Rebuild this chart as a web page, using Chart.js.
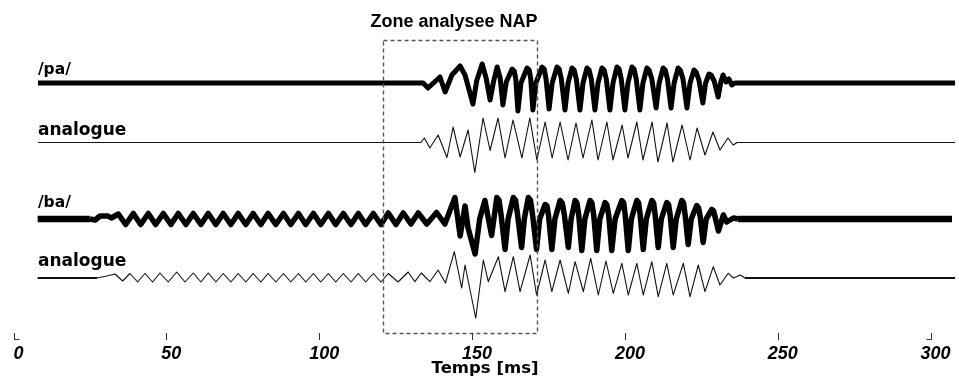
<!DOCTYPE html>
<html>
<head>
<meta charset="utf-8">
<script src="https://cdn.jsdelivr.net/npm/chart.js@4.4.1/dist/chart.umd.min.js"></script>
<style>
  html, body { margin: 0; padding: 0; background: #ffffff; }
  #wrap { width: 959px; height: 391px; position: relative; }
</style>
</head>
<body>
<div id="wrap"><canvas id="c" width="959" height="391"></canvas></div>
<script>
// ---- DATA (time in ms, amplitude in arbitrary units) ----
const tickValues = [0, 50, 100, 150, 200, 250, 300];
const axisTitle = 'Temps [ms]';
const zoneTitle = 'Zone analysee NAP';
const zoneStart = 121;
const zoneEnd = 171.3;
const trackLabels = ['/pa/', 'analogue', '/ba/', 'analogue'];

const paTime = [8, 134, 135.6, 139.5, 141.2, 143.4, 146.1, 147.7, 150.3, 151.5, 153.3, 154.6, 155.9, 157.0, 158.2, 159.2, 160.1, 161.2,
  163.1, 163.8, 164.3, 165.0, 166.0,
  168.0, 168.7, 169.2, 169.9, 170.9,
  172.9, 173.6, 174.2, 175.2, 176.2,
  177.8, 178.5, 179.2, 180.4, 181.4,
  182.7, 183.4, 184.1, 185.3, 186.3,
  187.6, 188.3, 189.0, 190.2, 191.2,
  192.5, 193.2, 193.9, 195.1, 196.1,
  197.4, 198.1, 198.8, 200.0, 201.0,
  202.3, 203.0, 203.7, 204.9, 205.9,
  207.2, 207.9, 208.8, 210.2, 211.2,
  212.5, 213.2, 213.9, 215.1, 216.1,
  217.4, 218.1, 219.0, 220.3, 221.3,
  222.6, 223.3, 224.2, 225.5, 226.4,
  227.5, 228.2, 229.2, 230.5, 231.3,
  232.1, 233.1, 234.0, 235.0, 236.0, 308];
const paAmp = [0, 0, -5, 6, -9, 8, 17, 8, -21, 2, 19, 5, -17, 1, 16, 5, -22, 1,
  14, 12, 4, -28, 0,
  15, 13, 4, -27, 0,
  16, 14, 4, -26, 0,
  16, 14, 4, -27, 0,
  15, 13, 4, -27, 0,
  15, 13, 4, -27, 0,
  15, 13, 4, -27, 0,
  16, 14, 4, -27, 0,
  16, 14, 4, -27, 0,
  15, 13, 4, -25, 0,
  15, 13, 4, -25, 0,
  15, 13, 4, -25, 0,
  13, 11, 3, -20, 0,
  9, 8, 2, -14, 0,
  8, 1, 4, -2, 0, 0];

const an1Time = [8, 133.3, 134.4, 136.2, 138.9, 141.8, 143.8, 146.1, 148.7, 150.9, 153.6, 155.9, 158.5, 160.8, 163.4, 166.3, 168.9, 171.2, 173.9, 176.2, 178.8, 181.4, 184.0, 186.3, 189.2, 191.2, 194.1, 196.1, 199.1, 201.0, 203.9, 205.9, 208.9, 210.8, 213.8, 215.7, 218.7, 221.3, 223.6, 226.2, 228.8, 231.1, 233.7, 235.4, 236.7, 308];
const an1Amp  = [0, 0, 4.5, -5.5, 7.5, -15, 15.5, -14.5, 12.5, -30, 24.5, -8, 24.5, -15.5, 22.5, -15.5, 24.5, -17.5, 20.5, -15.5, 20.5, -17.5, 19.5, -15.5, 22.5, -17.5, 20.5, -17.5, 17.5, -15.5, 20.5, -17.5, 20.5, -19.5, 19.5, -19.5, 17.5, -17.5, 14.5, -12.5, 10.5, -7.5, 4.5, -2.5, 0, 0];

const baTime = [7.9, 25.0, 26.7, 28.3, 30.9, 32.0, 34.3, 36.7, 39.2, 41.6, 44.1, 46.5, 49.0, 51.5, 53.9, 56.4, 58.8, 61.3, 63.7, 66.2, 68.6, 71.1, 73.5, 76.0, 78.4, 80.9, 83.3, 85.8, 88.3, 90.7, 93.2, 95.6, 98.1, 100.5, 103.0, 105.4, 107.9, 110.4, 112.8, 115.2, 117.7, 120.2, 122.6, 125.1, 127.5, 130.0, 132.4, 135.2, 138.4, 141.1,
  144.4, 146.1, 147.7, 148.7, 151.0, 152.5, 154.2, 156.4,
  158.1, 158.8, 159.5, 160.8, 161.8,
  163.5, 164.2, 164.9, 166.2, 167.1,
  168.4, 169.1, 169.8, 171.1, 172.1,
  173.9, 174.5, 175.0, 176.1, 177.1,
  178.8, 179.5, 180.2, 181.5, 182.4,
  183.7, 184.3, 184.9, 185.9, 186.9,
  188.6, 189.2, 189.8, 190.8, 191.8,
  193.5, 194.1, 194.7, 195.7, 196.8,
  199.0, 199.6, 200.1, 201.1, 202.1,
  203.9, 204.5, 205.0, 206.0, 207.0,
  208.8, 209.4, 209.9, 210.9, 211.9,
  213.7, 214.3, 214.8, 215.8, 216.8,
  218.6, 219.2, 219.7, 220.7, 221.7,
  223.5, 224.1, 224.6, 225.6, 226.6,
  228.4, 229.0, 229.5, 230.6,
  232.2, 233.3, 235.5, 237.0, 307.0];
const baAmp = [0, 0, -1, 3, 3, 1, 5, -5.5, 5.5, -5.5, 5.5, -5.5, 5.5, -5.5, 5.5, -5.5, 5.5, -5.5, 5.5, -5.5, 5.5, -5.5, 5.5, -5.5, 5.5, -5.5, 5.5, -5.5, 5.5, -5.5, 5.5, -5.5, 5.5, -5.5, 5.5, -5.5, 5.5, -5.5, 5.5, -5.5, 5.5, -5.5, 6, -5.5, 6, -5, 6, -5, 6.5, -5,
  21.5, -17, 13, -9, -35, 0, 18.5, -16.5,
  21.5, 19, 4, -30.5, 0,
  21.5, 19, 4, -28.5, 0,
  21.5, 19, 4, -30.5, 0,
  14.5, 13, 4, -30.5, 0,
  18.5, 16, 4, -28.5, 0,
  18.5, 16, 4, -31.5, 0,
  18.5, 16, 4, -31.5, 0,
  16.5, 14, 4, -31.5, 0,
  18.5, 16, 4, -31.5, 0,
  18.5, 16, 4, -30.5, 0,
  18.5, 16, 4, -28.5, 0,
  16.5, 14, 4, -28.5, 0,
  18.5, 16, 4, -25.5, 0,
  13.5, 11, 3, -23.5, 0,
  9.5, 8, 2, -12,
  4, -3, 1, 0, 0];

const an2Time = [7.9, 21.8, 27.3, 30.5, 33.2, 35.7, 38.1, 40.6, 43.0, 45.5, 47.9, 50.6, 53.4, 56.1, 58.8, 61.3, 63.7, 66.2, 68.6, 71.1, 73.5, 76.0, 78.4, 80.9, 83.3, 85.8, 88.3, 90.7, 93.2, 95.6, 98.1, 100.5, 103.0, 105.4, 107.9, 110.4, 112.8, 115.2, 117.7, 120.2, 122.6, 125.8, 129.1, 131.3, 133.4, 136.2, 138.9, 141.3, 144.2, 146.6, 147.7, 151.2, 153.7, 155.3, 158.6, 160.8, 163.5, 165.7, 169.0, 171.1, 173.9, 176.1, 178.8, 181.5, 183.7, 186.4, 188.8, 191.3, 193.8, 196.2, 199.0, 201.1, 203.9, 206.0, 208.8, 210.9, 213.7, 215.8, 219.1, 221.3, 224.0, 226.2, 228.9, 231.1, 233.8, 235.5, 237.7, 239.3, 308];
const an2Amp  = [0, 0, 0, 2, 4, -3, 4.5, -4, 4.5, -4, 5, -4, 6, -4, 5, -4, 5, -4, 4.5, -4, 4.5, -4, 4.5, -4, 4.5, -4, 4.5, -4, 4.5, -4, 4.5, -4, 4.5, -4, 4.5, -4, 4.5, -4, 4.5, -4, 4.5, -4, 6, -3.7, 5, -3.7, 8, -5, 26.3, -10, 13, -40, 18, -3.7, 21.3, -13.7, 21.3, -13.7, 23, -17, 18, -13.7, 18, -15.3, 16.3, -13.7, 19.7, -17, 17, -15.3, 14.7, -17, 14.7, -17, 16.3, -18.7, 14.7, -17, 14.7, -18.7, 13, -13.7, 11.3, -7, 4.7, 0, 3, 0, 0];

// ---- CHART ----
// vertical placement of each trace (y axis runs 0..333, one unit per pixel)
const baselines = [250, 190.5, 114, 55];
const labelLift = [9.5, 8, 12, 12];
const series = [
  { t: paTime,  a: paAmp,  w: 5,   c: '#000000', flatW: 5 },
  { t: an1Time, a: an1Amp, w: 1.1, c: '#111111', flatW: 1.1 },
  { t: baTime,  a: baAmp,  w: 5.5, c: '#000000', flatW: 6.5 },
  { t: an2Time, a: an2Amp, w: 1.1, c: '#111111', flatW: 2 }
];
const datasets = series.map((s, k) => ({
  label: trackLabels[k],
  data: s.t.map((t, i) => ({ x: t, y: baselines[k] + s.a[i] })),
  borderColor: s.c,
  borderWidth: s.w,
  pointRadius: 0,
  tension: 0,
  fill: false,
  borderJoinStyle: 'round',
  borderCapStyle: 'butt',
  segment: {
    // silent stretches at both ends of the recordings are drawn heavier, as in the figure
    borderWidth: (ctx) => (ctx.p0.parsed.y === ctx.p1.parsed.y && ctx.p0.parsed.y === baselines[k]) ? s.flatW : s.w
  }
}));

const overlay = {
  id: 'overlay',
  afterDatasetsDraw(chart) {
    const { ctx, scales: { x, y } } = chart;
    ctx.save();
    // dashed analysis zone
    const x0 = x.getPixelForValue(zoneStart);
    const x1 = x.getPixelForValue(zoneEnd);
    const yT = y.getPixelForValue(293);
    const yB = y.getPixelForValue(0);
    ctx.setLineDash([4, 3]);
    ctx.strokeStyle = '#555555';
    ctx.lineWidth = 1.4;
    ctx.strokeRect(Math.round(x0) + 0.5, Math.round(yT) + 0.5, Math.round(x1 - x0), Math.round(yB - yT));
    ctx.setLineDash([]);
    // zone title
    ctx.fillStyle = '#000000';
    ctx.textBaseline = 'alphabetic';
    ctx.textAlign = 'left';
    ctx.font = 'bold 18px "Liberation Sans", Arial, sans-serif';
    ctx.fillText(zoneTitle, x0 - 13, yT - 13);
    // track labels
    const lx = x.getPixelForValue(paTime[0]);
    trackLabels.forEach((lab, k) => {
      const word = lab.charAt(0) !== '/';
      ctx.font = word ? 'bold 17px "DejaVu Sans", Verdana, sans-serif' : 'bold 15.5px "DejaVu Sans", Verdana, sans-serif';
      ctx.fillText(lab, lx, y.getPixelForValue(baselines[k]) - labelLift[k]);
    });
    // tick marks and small corner marks at both ends of the axis
    ctx.strokeStyle = '#333333';
    ctx.lineWidth = 1;
    const yt = Math.round(yB);
    ctx.beginPath();
    tickValues.forEach(v => {
      const px = Math.round(x.getPixelForValue(v)) + 0.5;
      ctx.moveTo(px, yt); ctx.lineTo(px, yt + 7);
    });
    const xa = Math.round(x.getPixelForValue(tickValues[0])) + 0.5;
    const xb = Math.round(x.getPixelForValue(tickValues[tickValues.length - 1])) + 0.5;
    const yl = yt + 6.5;
    ctx.moveTo(xa, yl); ctx.lineTo(xa + 5, yl);
    ctx.moveTo(xb, yl); ctx.lineTo(xb - 5, yl);
    ctx.stroke();
    ctx.restore();
  }
};

new Chart(document.getElementById('c'), {
  type: 'line',
  data: { datasets },
  plugins: [overlay],
  options: {
    responsive: false,
    animation: false,
    events: [],
    layout: { padding: { left: 13.5, right: 2.4, top: 0, bottom: 0 } },
    plugins: { legend: { display: false }, tooltip: { enabled: false }, title: { display: false } },
    scales: {
      x: {
        type: 'linear',
        min: 0,
        max: 308.5,
        afterBuildTicks: (scale) => { scale.ticks = tickValues.map(v => ({ value: v })); },
        afterFit: (scale) => { scale.height = 58; },
        border: { display: false },
        grid: { display: true, drawOnChartArea: false, drawTicks: true, tickLength: 7, color: 'rgba(0,0,0,0)', lineWidth: 1 },
        ticks: {
          color: '#000000',
          padding: 3,
          labelOffset: 5,
          maxRotation: 0,
          autoSkip: false,
          font: { family: '"Liberation Sans", Arial, sans-serif', size: 18, weight: 'bold', style: 'italic' }
        },
        title: {
          display: true,
          text: axisTitle,
          color: '#000000',
          padding: { top: 0, bottom: 12 },
          font: { family: '"DejaVu Sans", Verdana, sans-serif', size: 16.5, weight: 'bold' }
        }
      },
      y: {
        display: false,
        min: 0,
        max: 333
      }
    }
  }
});
</script>
</body>
</html>
